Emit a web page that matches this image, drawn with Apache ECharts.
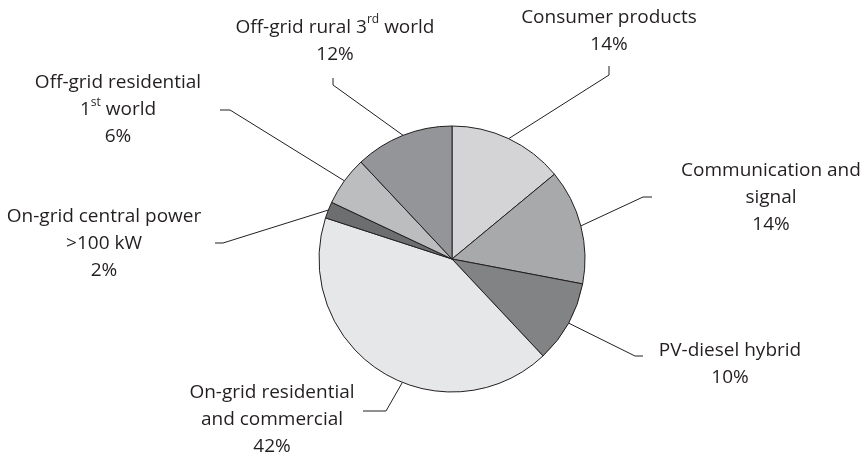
<!DOCTYPE html>
<html>
<head>
<meta charset="utf-8">
<script src="https://cdn.jsdelivr.net/npm/echarts@6/dist/echarts.min.js"></script>
<style>
html,body{margin:0;padding:0;background:#fff;}
#chart{width:866px;height:463px;}
</style>
</head>
<body>
<div id="chart"></div>
<script>
// ---- data ----
const categories = [
  'Consumer products',
  'Communication and signal',
  'PV-diesel hybrid',
  'On-grid residential and commercial',
  'On-grid central power >100 kW',
  'Off-grid residential 1st world',
  'Off-grid rural 3rd world'
];
const shares = [14, 14, 10, 42, 2, 6, 12];
const labelTexts = [
  'Consumer products',
  'Communication and\nsignal',
  'PV-diesel hybrid',
  'On-grid residential\nand commercial',
  'On-grid central power\n>100 kW',
  'Off-grid residential\n1{sup|st} world',
  'Off-grid rural 3{sup|rd} world'
];
const sliceColors = ['#d4d4d6', '#a8a9ab', '#828385', '#e6e7e8', '#6d6e70', '#bcbdbf', '#939598'];

// ---- layout (positions only) ----
const pieCenter = [452, 259];
const pieRadius = 133;
// center of label block, leader bend / end points, and anchor angle shift (deg)
const labelPlace = [
  {x: 609, y: 31, bend: [609, 75], end: [609, 66], shift: 0},
  {x: 771, y: 198, bend: [643, 197], end: [652, 197], shift: 0},
  {x: 730, y: 364, bend: [635, 356], end: [643, 356], shift: 0},
  {x: 272, y: 420, bend: [386, 411], end: [363, 411], shift: -10.5},
  {x: 104, y: 244, bend: [223, 243], end: [215, 243], shift: 0},
  {x: 118, y: 110, bend: [230, 110], end: [220, 110], shift: 0},
  {x: 335, y: 41, bend: [333, 85], end: [333, 78], shift: 0}
];

function rotateAbout(pt, c, deg) {
  // screen coords, positive deg = clockwise
  const a = deg * Math.PI / 180;
  const dx = pt[0] - c[0], dy = pt[1] - c[1];
  return [c[0] + dx * Math.cos(a) - dy * Math.sin(a), c[1] + dx * Math.sin(a) + dy * Math.cos(a)];
}

const chart = echarts.init(document.getElementById('chart'));
const textColor = '#231f20';
const fontFamily = '"Open Sans", "Noto Sans", sans-serif';

chart.setOption({
  animation: false,
  series: [{
    type: 'pie',
    center: pieCenter,
    radius: pieRadius,
    startAngle: 90,
    clockwise: true,
    avoidLabelOverlap: false,
    data: categories.map((c, i) => ({
      name: c,
      value: shares[i],
      itemStyle: {color: sliceColors[i]}
    })),
    itemStyle: {borderColor: '#231f20', borderWidth: 1},
    label: {
      show: true,
      position: 'outside',
      formatter: p => labelTexts[p.dataIndex] + '\n' + shares[p.dataIndex] + '%',
      color: textColor,
      fontFamily: fontFamily,
      fontSize: 19,
      fontWeight: 'normal',
      lineHeight: 27,
      align: 'center',
      rich: {
        sup: {fontSize: 12, fontFamily: fontFamily, color: textColor, verticalAlign: 'top', lineHeight: 27, padding: [0, 0, 2, 0]}
      }
    },
    labelLine: {
      show: true,
      length: 20,
      length2: 10,
      lineStyle: {color: '#231f20', width: 1}
    },
    labelLayout: function (params) {
      const pl = labelPlace[params.dataIndex];
      let start = params.labelLinePoints ? params.labelLinePoints[0] : pl.bend;
      if (pl.shift) start = rotateAbout(start, pieCenter, pl.shift);
      return {
        x: pl.x,
        y: pl.y,
        align: 'center',
        verticalAlign: 'middle',
        labelLinePoints: [start, pl.bend, pl.end]
      };
    },
    emphasis: {disabled: true}
  }]
});
</script>
</body>
</html>
